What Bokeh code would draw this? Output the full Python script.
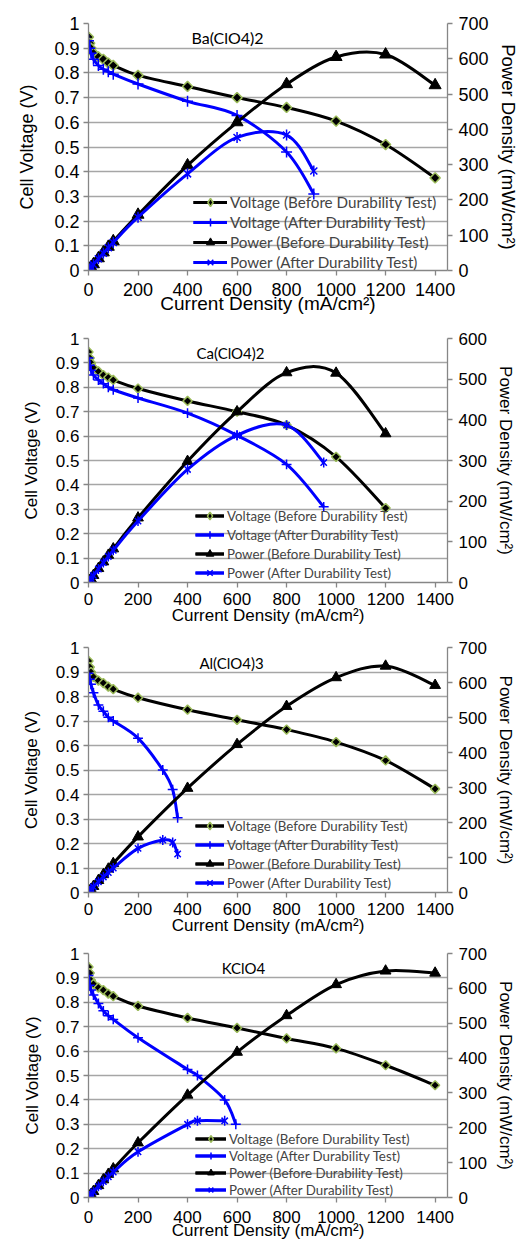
import math
from bokeh.plotting import figure
from bokeh.models import (Range1d, LinearAxis, FixedTicker, CustomJSTickFormatter,
                          Legend, LegendItem, Label)
from bokeh.layouts import column
from bokeh.embed import file_html
from bokeh.resources import INLINE

# ---------------- data ----------------
x_ticks = [0, 200, 400, 600, 800, 1000, 1200, 1400]
v_ticks = [0, 0.1, 0.2, 0.3, 0.4, 0.5, 0.6, 0.7, 0.8, 0.9, 1.0]
p_ticks_700 = [0, 100, 200, 300, 400, 500, 600, 700]
p_ticks_600 = [0, 100, 200, 300, 400, 500, 600]

series_labels = ["Voltage (Before Durability Test)", "Voltage (After Durability Test)",
                 "Power (Before Durability Test)", "Power (After Durability Test)"]
titles = ["Ba(ClO4)2", "Ca(ClO4)2", "Al(ClO4)3", "KClO4"]

# Ba(ClO4)2
ba_i_before = [0, 5, 10, 20, 40, 60, 80, 100, 200, 400, 600, 800, 1000, 1200, 1400]
ba_v_before = [0.945, 0.92, 0.90, 0.88, 0.865, 0.855, 0.84, 0.83, 0.79, 0.745, 0.70, 0.66, 0.605, 0.51, 0.375]
ba_p_before = [0, 4.6, 9, 17.6, 34.6, 51.3, 67.2, 83, 158, 298, 420, 528, 605, 612, 525]
ba_i_after = [0, 5, 10, 20, 40, 60, 80, 100, 200, 400, 600, 800, 910]
ba_v_after = [0.93, 0.90, 0.88, 0.855, 0.83, 0.815, 0.805, 0.795, 0.755, 0.685, 0.628, 0.48, 0.31]
ba_p_after = [0, 4.5, 8.8, 17.1, 33.2, 48.9, 64.4, 79.5, 151, 274, 377, 384, 282]

# Ca(ClO4)2
ca_i_before = [0, 5, 10, 20, 40, 60, 80, 100, 200, 400, 600, 800, 1000, 1200]
ca_v_before = [0.945, 0.92, 0.90, 0.88, 0.865, 0.85, 0.84, 0.83, 0.795, 0.744, 0.70, 0.645, 0.515, 0.305]
ca_p_before = [0, 4.6, 9, 17.6, 34.6, 51, 67.2, 83, 159, 298, 420, 516, 515, 366]
ca_i_after = [0, 5, 10, 20, 40, 60, 80, 100, 200, 400, 600, 800, 950]
ca_v_after = [0.92, 0.89, 0.87, 0.85, 0.83, 0.815, 0.80, 0.79, 0.756, 0.694, 0.603, 0.484, 0.31]
ca_p_after = [0, 4.5, 8.7, 17, 33.2, 48.9, 64, 79, 151, 278, 362, 387, 295]

# Al(ClO4)3
al_i_before = [0, 5, 10, 20, 40, 60, 80, 100, 200, 400, 600, 800, 1000, 1200, 1400]
al_v_before = [0.945, 0.92, 0.90, 0.88, 0.865, 0.855, 0.84, 0.83, 0.795, 0.746, 0.705, 0.665, 0.614, 0.539, 0.423]
al_p_before = [0, 4.6, 9, 17.6, 34.6, 51.3, 67.2, 83, 159, 298, 423, 532, 614, 647, 592]
al_i_after = [0, 5, 10, 20, 40, 60, 80, 100, 200, 300, 340, 360]
al_v_after = [0.895, 0.87, 0.85, 0.815, 0.765, 0.74, 0.715, 0.70, 0.63, 0.50, 0.42, 0.305]
al_p_after = [0, 4.4, 8.5, 16.3, 30.6, 44.4, 57.2, 70, 126, 150, 143, 110]

# KClO4
k_i_before = [0, 5, 10, 20, 40, 60, 80, 100, 200, 400, 600, 800, 1000, 1200, 1400]
k_v_before = [0.945, 0.92, 0.89, 0.875, 0.86, 0.85, 0.835, 0.825, 0.785, 0.736, 0.695, 0.652, 0.611, 0.542, 0.46]
k_p_before = [0, 4.6, 8.9, 17.5, 34.4, 51, 66.8, 82.5, 157, 294, 417, 522, 611, 650, 644]
k_i_after_v = [0, 5, 10, 20, 40, 60, 80, 100, 200, 400, 440, 550, 595]
k_v_after = [0.91, 0.87, 0.85, 0.83, 0.795, 0.765, 0.745, 0.73, 0.655, 0.525, 0.50, 0.40, 0.30]
k_i_after_p = [0, 5, 10, 20, 40, 60, 80, 100, 200, 400, 440, 550]
k_p_after = [0, 4.4, 8.5, 16.6, 31.8, 45.9, 59.6, 73, 131, 210, 220, 220]

# ---------------- helpers ----------------
FONT = "Liberation Sans"
LFONT = "Lato"
BLUE = "#0000FF"
BLACK = "#000000"
GREEN = "#9BBB59"
GRID = "#A6A6A6"
AXIS = "#868686"
NAN = float("nan")


def smooth_segments(xs, ys):
    n = len(xs)
    out = dict(x0=[], y0=[], x1=[], y1=[], cx0=[], cy0=[], cx1=[], cy1=[])
    for i in range(n - 1):
        xm, ym = (xs[i - 1], ys[i - 1]) if i > 0 else (xs[i], ys[i])
        xp2, yp2 = (xs[i + 2], ys[i + 2]) if i + 2 < n else (xs[i + 1], ys[i + 1])
        out["x0"].append(xs[i]); out["y0"].append(ys[i])
        out["x1"].append(xs[i + 1]); out["y1"].append(ys[i + 1])
        out["cx0"].append(xs[i] + (xs[i + 1] - xm) / 6.0)
        out["cy0"].append(ys[i] + (ys[i + 1] - ym) / 6.0)
        out["cx1"].append(xs[i + 1] - (xp2 - xs[i]) / 6.0)
        out["cy1"].append(ys[i + 1] - (yp2 - ys[i]) / 6.0)
    return out


def make_panel(title, ib, vb, pb, iav, va, iap, pa, pmax, pticks, g):
    W = 529
    fw = g["fw"]
    p = figure(width=W, height=g["H"], x_range=Range1d(0, 1450), y_range=Range1d(0, 1),
               output_backend="svg", toolbar_location=None,
               min_border_left=g["bl"], min_border_right=W - g["bl"] - fw,
               min_border_top=g["bt"], min_border_bottom=g["bb"])
    p.outline_line_color = None
    p.background_fill_color = "white"
    p.extra_y_ranges = {"pw": Range1d(0, pmax)}

    fs = g["fs"]
    xa = p.xaxis[0]
    xa.ticker = FixedTicker(ticks=x_ticks)
    xa.axis_label = "Current Density (mA/cm²)"
    ya = p.yaxis[0]
    ya.ticker = FixedTicker(ticks=v_ticks)
    ya.formatter = CustomJSTickFormatter(code="return (Math.round(tick*10)/10).toString();")
    ya.axis_label = "Cell Voltage (V)"
    ra = LinearAxis(y_range_name="pw", ticker=FixedTicker(ticks=pticks),
                    axis_label="Power Density (mW/cm²)")
    p.add_layout(ra, "right")

    for ax in (xa, ya, ra):
        ax.axis_line_color = AXIS
        ax.axis_line_width = 1.3
        ax.major_tick_line_color = AXIS
        ax.major_tick_line_width = 1.3
        ax.major_tick_in = 0
        ax.major_tick_out = 5
        ax.minor_tick_line_color = None
        ax.major_label_text_font = FONT
        ax.major_label_text_font_size = f"{fs}px"
        ax.major_label_text_color = "#000000"
        ax.axis_label_text_font = FONT
        ax.axis_label_text_font_style = "normal"
        ax.axis_label_text_color = "#000000"
    xa.major_label_standoff = g["xts"]
    xa.axis_label_standoff = g["xls"]
    xa.axis_label_text_font_size = f"{g['xlf']}px"
    ya.major_label_standoff = 4
    ya.axis_label_standoff = g["yls"]
    ya.axis_label_text_font_size = f"{g['ylf']}px"
    ra.major_label_standoff = 6
    ra.axis_label_standoff = g["rls"]
    ra.axis_label_text_font_size = f"{g['rlf']}px"

    p.xgrid.visible = False
    p.ygrid.grid_line_color = GRID
    p.ygrid.grid_line_width = 1.3

    lw = 3
    ms = g["ms"]
    items = []

    b1 = p.bezier(**smooth_segments(ib, vb), line_color=BLACK, line_width=lw)
    l1 = p.line(x=[NAN], y=[NAN], line_color=BLACK, line_width=lw)
    p.scatter(ib, vb, marker="square", angle=math.pi / 4, size=ms * 0.72,
              fill_color=BLACK, line_color=GREEN, line_width=1.5)
    d1 = p.scatter(x=[NAN], y=[NAN], marker="diamond", size=ms * 1.1,
                   fill_color=BLACK, line_color=GREEN, line_width=1.5)
    items.append(LegendItem(label=series_labels[0], renderers=[b1, l1, d1]))

    b2 = p.bezier(**smooth_segments(iav, va), line_color=BLUE, line_width=lw)
    l2 = p.line(x=[NAN], y=[NAN], line_color=BLUE, line_width=lw)
    s2 = p.scatter(iav, va, marker="cross", size=ms * 1.1, line_color=BLUE, line_width=1.5)
    items.append(LegendItem(label=series_labels[1], renderers=[b2, l2, s2]))

    b3 = p.bezier(**smooth_segments(ib, pb), line_color=BLACK, line_width=lw, y_range_name="pw")
    l3 = p.line(x=[NAN], y=[NAN], line_color=BLACK, line_width=lw, y_range_name="pw")
    s3 = p.scatter(ib, pb, marker="triangle", size=ms * 1.2, fill_color=BLACK,
                   line_color=BLACK, y_range_name="pw")
    items.append(LegendItem(label=series_labels[2], renderers=[b3, l3, s3]))

    b4 = p.bezier(**smooth_segments(iap, pa), line_color=BLUE, line_width=lw, y_range_name="pw")
    l4 = p.line(x=[NAN], y=[NAN], line_color=BLUE, line_width=lw, y_range_name="pw")
    s4 = p.scatter(iap, pa, marker="x", size=ms * 1.0, line_color=BLUE, line_width=1.5,
                   y_range_name="pw")
    s5 = p.scatter(iap, pa, marker="dash", angle=math.pi / 2, size=ms * 1.1,
                   line_color=BLUE, line_width=1.5, y_range_name="pw")
    items.append(LegendItem(label=series_labels[3], renderers=[b4, l4, s4, s5]))

    leg = Legend(items=items, location=g["legloc"], orientation="vertical",
                 spacing=0, padding=0, margin=0,
                 glyph_width=g["gw"], glyph_height=g["rowh"], label_height=g["rowh"],
                 label_standoff=3, label_text_font=LFONT,
                 label_text_font_size=f"{g['lf']}px",
                 background_fill_alpha=0, border_line_color=None)
    p.add_layout(leg)

    frame_h = g["H"] - g["bt"] - g["bb"]
    p.add_layout(Label(x=g["tx"], y=frame_h - g["ty"], x_units="screen", y_units="screen",
                       text=title, text_align="center", text_baseline="middle",
                       text_font=LFONT, text_font_size=f"{g['tf']}px", text_color="#000000"))
    return p


g1 = dict(H=320, bl=88, fw=366, bt=23, bb=50, fs=18, xlf=19, ylf=18, rlf=18.5,
          xts=7, xls=-6, yls=14, rls=6, ms=10, legloc=(105, -2), gw=34, rowh=20, lf=15.2,
          tx=139, ty=14, tf=16)
g2 = dict(H=310, bl=86, fw=366, bt=18, bb=48, fs=17, xlf=17, ylf=17, rlf=17,
          xts=5, xls=-2, yls=12, rls=6, ms=9, legloc=(107, 0), gw=29, rowh=19, lf=13.3,
          tx=142, ty=14, tf=15)
g3 = dict(H=310, bl=86, fw=366, bt=17, bb=48, fs=17, xlf=17, ylf=17, rlf=17,
          xts=5, xls=-2, yls=12, rls=6, ms=9, legloc=(107, 0), gw=29, rowh=19, lf=13.3,
          tx=143, ty=15, tf=15)
g4 = dict(H=305, bl=79, fw=368, bt=13, bb=48, fs=17, xlf=17, ylf=17, rlf=17,
          xts=8, xls=-5, yls=11, rls=6, ms=9, legloc=(107, -1), gw=31, rowh=17, lf=13.3,
          tx=155, ty=14, tf=15)

p1 = make_panel(titles[0], ba_i_before, ba_v_before, ba_p_before, ba_i_after, ba_v_after,
                ba_i_after, ba_p_after, 700, p_ticks_700, g1)
p2 = make_panel(titles[1], ca_i_before, ca_v_before, ca_p_before, ca_i_after, ca_v_after,
                ca_i_after, ca_p_after, 600, p_ticks_600, g2)
p3 = make_panel(titles[2], al_i_before, al_v_before, al_p_before, al_i_after, al_v_after,
                al_i_after, al_p_after, 700, p_ticks_700, g3)
p4 = make_panel(titles[3], k_i_before, k_v_before, k_p_before, k_i_after_v, k_v_after,
                k_i_after_p, k_p_after, 700, p_ticks_700, g4)

layout = column(p1, p2, p3, p4, spacing=0)
open("out.html", "w").write(file_html(layout, INLINE))
